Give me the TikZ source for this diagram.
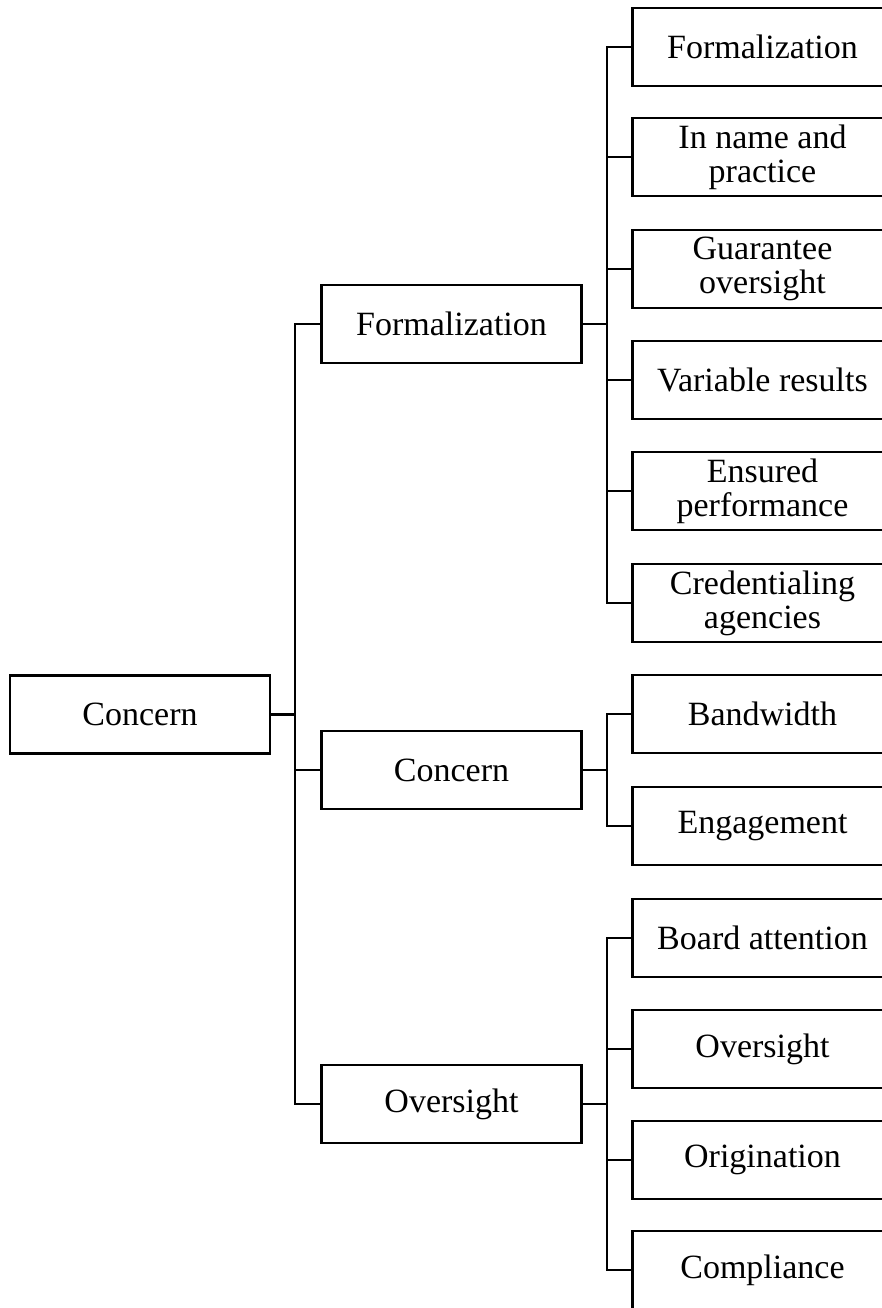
\documentclass[tikz,border=0pt]{standalone}
\usepackage{fontspec}
\setmainfont{Liberation Serif}
\begin{document}
\begin{tikzpicture}[x=1pt,y=-1pt,
  box/.style={draw,line width=2.2pt,minimum width=260pt,minimum height=78pt,inner sep=0pt,align=center,font=\fontsize{34}{34}\selectfont},
  conn/.style={line width=2.2pt}]
\useasboundingbox (0,0) rectangle (882,1308);
\clip (0,0) rectangle (882,1308);
% root
\node[box] (root) at (140,714.5) {Concern};
% mid
\node[box] (m1) at (451.5,324) {Formalization};
\node[box] (m2) at (451.5,770) {Concern};
\node[box] (m3) at (451.5,1104) {Oversight};
% leaves
\node[box] (l1) at (762.5,47) {Formalization};
\node[box] (l2) at (762.5,157.3) {In name and\\practice};
\node[box] (l3) at (762.5,269) {Guarantee\\oversight};
\node[box] (l4) at (762.5,380) {Variable results};
\node[box] (l5) at (762.5,491) {Ensured\\performance};
\node[box] (l6) at (762.5,603) {Credentialing\\agencies};
\node[box] (l7) at (762.5,714) {Bandwidth};
\node[box] (l8) at (762.5,826) {Engagement};
\node[box] (l9) at (762.5,938) {Board attention};
\node[box] (l10) at (762.5,1049) {Oversight};
\node[box] (l11) at (762.5,1160) {Origination};
\node[box] (l12) at (762.5,1270) {Compliance};
% trunk coordinates
\coordinate (t0) at (295,714.5);
\coordinate (t1) at (607,324);
\coordinate (t2) at (607,770);
\coordinate (t3) at (607,1104);
% connectors root
\draw[conn] (root.east) -- (t0);
\draw[conn] (t0) |- (m1.west);
\draw[conn] (t0) |- (m2.west);
\draw[conn] (t0) |- (m3.west);
% connectors m1
\draw[conn] (m1.east) -- (t1);
\foreach \l in {l1,l2,l3,l4,l5,l6} {\draw[conn] (t1) |- (\l.west);}
% m2
\draw[conn] (m2.east) -- (t2);
\foreach \l in {l7,l8} {\draw[conn] (t2) |- (\l.west);}
% m3
\draw[conn] (m3.east) -- (t3);
\foreach \l in {l9,l10,l11,l12} {\draw[conn] (t3) |- (\l.west);}
\end{tikzpicture}
\end{document}
